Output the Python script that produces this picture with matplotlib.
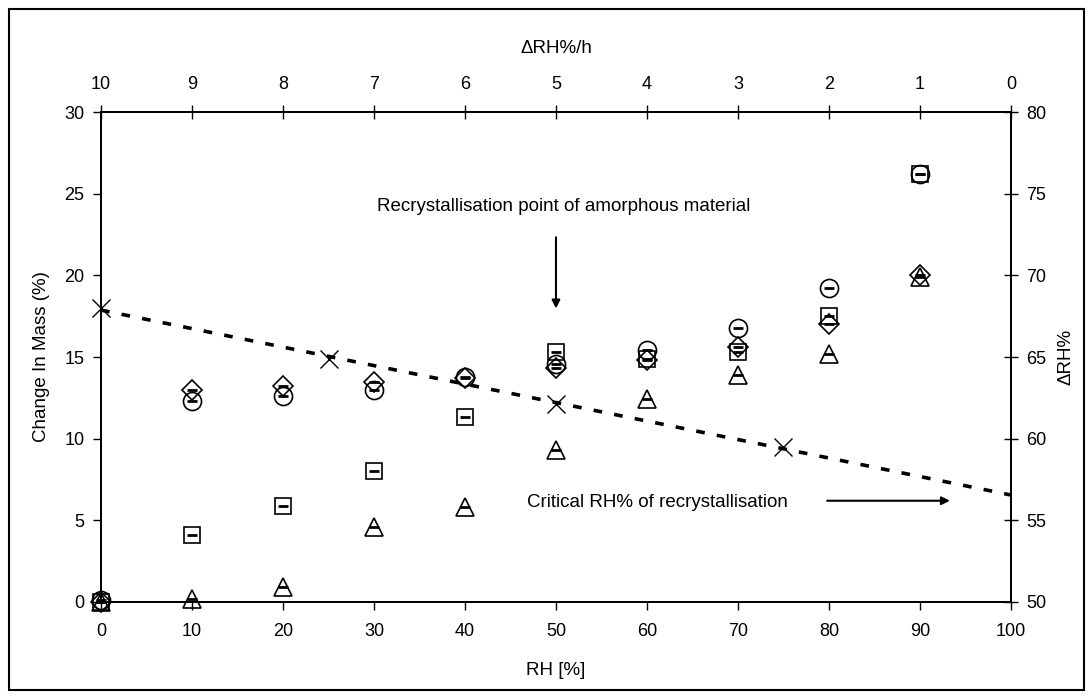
import numpy as np
import matplotlib
matplotlib.use('Agg')
import matplotlib.pyplot as plt
from matplotlib.patches import Rectangle

plt.rcParams['font.family'] = ['Liberation Sans', 'DejaVu Sans']
plt.rcParams['font.size'] = 13

# RH steps and change in mass (%) for the four samples
rh = [0, 10, 20, 30, 40, 50, 60, 70, 80, 90]
circle = [0.1, 12.3, 12.6, 13.0, 13.8, 14.6, 15.4, 16.8, 19.2, 26.2]
square = [0.0, 4.1, 5.9, 8.0, 11.3, 15.3, 14.9, 15.3, 17.5, 26.2]
triangle = [0.0, 0.2, 0.9, 4.6, 5.8, 9.3, 12.4, 13.9, 15.2, 19.9]
diamond = [0.0, 13.0, 13.2, 13.5, 13.7, 14.3, 14.8, 15.6, 17.0, 20.0]

# ramp rate (dRH%/h) vs critical RH% of recrystallisation
rate = [10, 7.5, 5, 2.5]
crit_rh = [68.0, 64.9, 62.1, 59.5]

fig = plt.figure(figsize=(10.91, 6.97), dpi=100)
ax = fig.add_axes([0.0926, 0.1363, 0.834, 0.703])

ms = dict(linestyle='none', mfc='none', mec='k', mew=1.2, clip_on=False, zorder=3)
ax.plot(rh, square, marker='s', markersize=12, **ms)
ax.plot(rh, circle, marker='o', markersize=13, **ms)
ax.plot(rh, diamond, marker='D', markersize=10, **ms)
ax.plot(rh, triangle, marker='^', markersize=13, **ms)
# small error bars inside the markers
for s in [square, circle, diamond, triangle]:
    ax.plot(rh, s, linestyle='none', marker='_', markersize=7, mew=2, color='k',
            clip_on=False, zorder=4)

ax.set_xlim(0, 100)
ax.set_ylim(0, 30)
ax.set_xticks(range(0, 101, 10))
ax.set_yticks(range(0, 31, 5))
ax.set_xlabel('RH [%]', labelpad=16, fontsize=13.5)
ax.set_ylabel('Change In Mass (%)', labelpad=10, fontsize=13.5)
ax.tick_params(axis='x', direction='out', length=6, width=1, pad=9)
ax.tick_params(axis='y', direction='out', length=6, width=1, pad=6)

ax2 = ax.twinx()
ax2.set_ylim(50, 80)
ax2.set_yticks(range(50, 81, 5))
ax2.set_ylabel('\u0394RH%', labelpad=8, fontsize=13.5)
ax2.tick_params(axis='y', direction='inout', length=10, width=1, pad=6)

ax3 = ax2.twiny()
ax3.set_xlim(10, 0)
ax3.set_xticks(range(10, -1, -1))
ax3.set_xlabel('\u0394RH%/h', labelpad=16, fontsize=13.5)
ax3.tick_params(axis='x', direction='inout', length=10, width=1, pad=9)

coef = np.polyfit(rate, crit_rh, 1)
fit_x = np.array([10, 0])
ax3.plot(fit_x, np.polyval(coef, fit_x), color='k', lw=2.6,
         linestyle=(0, (2.4, 3.4)), zorder=2)
ax3.plot(rate, crit_rh, linestyle='none', marker='x', markersize=13, mew=1,
         color='k', clip_on=False, zorder=3)

for a in [ax, ax2, ax3]:
    for sp in a.spines.values():
        sp.set_linewidth(1.3)

ax.text(50.9, 24.2, 'Recrystallisation point of amorphous material',
        ha='center', va='center', fontsize=13.5)
ax.annotate('', xy=(50, 17.8), xytext=(50, 22.5),
            arrowprops=dict(arrowstyle='-|>', color='k', lw=1.5, mutation_scale=12))
ax.text(46.8, 6.1, 'Critical RH% of recrystallisation', ha='left', va='center',
        fontsize=13.5)
ax.annotate('', xy=(93.6, 6.2), xytext=(79.5, 6.2),
            arrowprops=dict(arrowstyle='-|>', color='k', lw=1.5, mutation_scale=12))

fig.patches.append(Rectangle((9 / 1091, 7 / 697), 1075 / 1091, 681 / 697,
                             transform=fig.transFigure, fill=False, lw=1.5,
                             edgecolor='k'))

plt.savefig('out.png', dpi=100)
